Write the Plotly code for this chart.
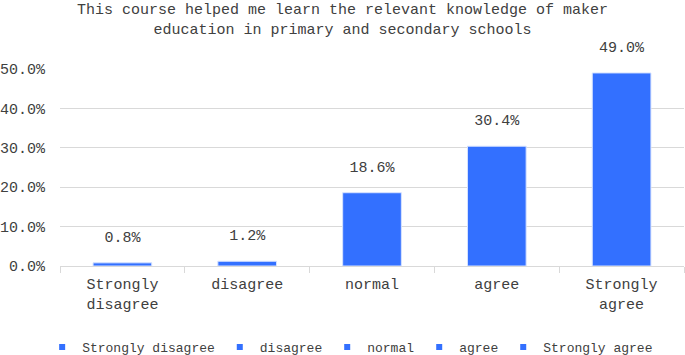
import plotly.graph_objects as go

categories = ["Strongly disagree", "disagree", "normal", "agree", "Strongly agree"]
tick_labels = ["Strongly<br>disagree", "disagree", "normal", "agree", "Strongly<br>agree"]
values = [0.8, 1.2, 18.6, 30.4, 49.0]
label_text = ["0.8%", "1.2%", "18.6%", "30.4%", "49.0%"]
y_ticks = [0, 10, 20, 30, 40, 50]
y_tick_text = ["0.0%", "10.0%", "20.0%", "30.0%", "40.0%", "50.0%"]

BLUE = "#3370FF"
FONT = "Liberation Mono"
GREY = "#404040"

fig = go.Figure()
for cat, tl, v in zip(categories, tick_labels, values):
    fig.add_trace(go.Bar(
        x=[tl], y=[v], name=cat, showlegend=False,
        marker=dict(color=BLUE, line=dict(color="#D6E2FF", width=1)),
        width=0.47,
    ))
    # legend entry with a small square marker
    fig.add_trace(go.Scatter(
        x=[None], y=[None], name=cat, mode="markers",
        marker=dict(symbol="square", size=6, color=BLUE),
    ))

# value labels above bars
fig.add_trace(go.Scatter(
    x=tick_labels, y=values, mode="markers+text", text=label_text,
    textposition="top center", showlegend=False, hoverinfo="skip",
    marker=dict(size=26, opacity=0), cliponaxis=False,
    textfont=dict(family=FONT, size=15, color=GREY),
))

fig.update_layout(
    width=685, height=355,
    margin=dict(l=60, r=1, t=69, b=89, autoexpand=False),
    paper_bgcolor="white", plot_bgcolor="white",
    barmode="overlay",
    title=dict(text="This course helped me learn the relevant knowledge of maker<br>education in primary and secondary schools",
               x=0.5, xanchor="center", y=0.96, yanchor="middle",
               font=dict(family=FONT, size=15, color=GREY)),
    font=dict(family=FONT, color=GREY),
    legend=dict(orientation="h", x=0.465, xanchor="center", y=-0.335, yanchor="top",
                font=dict(family=FONT, size=13, color=GREY),
                itemwidth=30, traceorder="normal"),
    showlegend=True,
)
fig.update_xaxes(categoryorder="array", categoryarray=tick_labels,
                 showline=True, linecolor="#D9D9D9", linewidth=1,
                 ticks="outside", tickson="boundaries", ticklen=6, tickcolor="#D9D9D9",
                 tickfont=dict(family=FONT, size=15, color=GREY), showgrid=False,
                 ticklabelstandoff=4)
fig.update_yaxes(range=[0, 50], tickvals=y_ticks, ticktext=y_tick_text,
                 showgrid=True, gridcolor="#D9D9D9", gridwidth=1, zeroline=False,
                 tickfont=dict(family=FONT, size=15, color=GREY), ticklabelstandoff=14)

fig.write_html("out.html")
